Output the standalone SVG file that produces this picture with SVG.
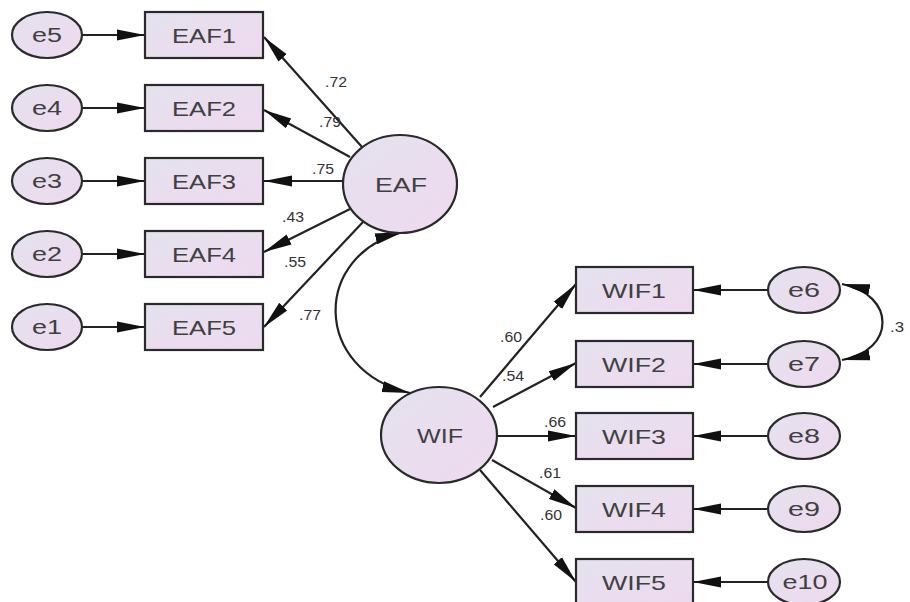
<svg xmlns="http://www.w3.org/2000/svg" width="910" height="602" viewBox="0 0 910 602">
<style>
.box{fill:url(#g);stroke:#2a2a2a;stroke-width:2.2}
.ell{fill:url(#g);stroke:#2a2a2a;stroke-width:2.2}
.lbl{font-family:"Liberation Sans",Arial,sans-serif;font-size:20px;fill:#404040;text-anchor:middle}
.big{font-size:21px}
.w{font-family:"Liberation Sans",Arial,sans-serif;font-size:14px;fill:#333;text-anchor:middle}
.c{stroke:#222;stroke-width:2.2;fill:none;marker-end:url(#ah)}
.cv{stroke:#222;stroke-width:2.2;fill:none;marker-end:url(#ah);marker-start:url(#ah)}
</style>
<defs>
<linearGradient id="g" x1="0" y1="0" x2="1" y2="1">
<stop offset="0" stop-color="#e4e2ee"/>
<stop offset="1" stop-color="#efd9ef"/>
</linearGradient>
<marker id="ah" markerUnits="userSpaceOnUse" markerWidth="30" markerHeight="14" refX="28" refY="7" orient="auto-start-reverse" viewBox="0 0 30 14">
<path d="M0,1.5 L28,7 L0,12.5 Z" fill="#111"/>
</marker>
</defs>
<rect width="910" height="602" fill="#fff"/>
<g id="connectors">
<line class="c" x1="82" y1="35" x2="145" y2="35"/>
<line class="c" x1="82" y1="108" x2="145" y2="108"/>
<line class="c" x1="82" y1="181" x2="145" y2="181"/>
<line class="c" x1="82" y1="254" x2="145" y2="254"/>
<line class="c" x1="82" y1="327" x2="145" y2="327"/>
<line class="c" x1="362" y1="147" x2="264" y2="37"/>
<line class="c" x1="350" y1="157" x2="264" y2="110"/>
<line class="c" x1="343" y1="181" x2="264" y2="181"/>
<line class="c" x1="350" y1="209" x2="264" y2="252"/>
<line class="c" x1="363" y1="222" x2="264" y2="327"/>
<path class="cv" d="M403,232 C312,255 312,370 410,393"/>
<line class="c" x1="480" y1="397" x2="576" y2="284"/>
<line class="c" x1="493" y1="407" x2="576" y2="363"/>
<line class="c" x1="497" y1="436" x2="576" y2="436"/>
<line class="c" x1="492" y1="460" x2="576" y2="508"/>
<line class="c" x1="480" y1="470" x2="576" y2="582"/>
<line class="c" x1="768" y1="290" x2="693" y2="290"/>
<line class="c" x1="768" y1="364" x2="693" y2="364"/>
<line class="c" x1="768" y1="436" x2="693" y2="436"/>
<line class="c" x1="768" y1="509" x2="693" y2="509"/>
<line class="c" x1="768" y1="582" x2="693" y2="582"/>
<path class="cv" d="M842,284 C896,295 896,350 842,360"/>
<text class="w" x="336" y="87" textLength="22" lengthAdjust="spacingAndGlyphs">.72</text>
<text class="w" x="330" y="127" textLength="22" lengthAdjust="spacingAndGlyphs">.79</text>
<text class="w" x="323" y="174" textLength="22" lengthAdjust="spacingAndGlyphs">.75</text>
<text class="w" x="293" y="222" textLength="22" lengthAdjust="spacingAndGlyphs">.43</text>
<text class="w" x="295" y="267" textLength="22" lengthAdjust="spacingAndGlyphs">.55</text>
<text class="w" x="310" y="320" textLength="22" lengthAdjust="spacingAndGlyphs">.77</text>
<text class="w" x="511" y="342" textLength="22" lengthAdjust="spacingAndGlyphs">.60</text>
<text class="w" x="513" y="381" textLength="22" lengthAdjust="spacingAndGlyphs">.54</text>
<text class="w" x="555" y="427" textLength="22" lengthAdjust="spacingAndGlyphs">.66</text>
<text class="w" x="550" y="478" textLength="22" lengthAdjust="spacingAndGlyphs">.61</text>
<text class="w" x="551" y="520" textLength="22" lengthAdjust="spacingAndGlyphs">.60</text>
<text class="w" x="897" y="332" textLength="14" lengthAdjust="spacingAndGlyphs">.3</text>
</g>
<g id="e5"><ellipse class="ell" cx="47" cy="35" rx="35" ry="23"/><text class="lbl" x="47" y="42" textLength="30" lengthAdjust="spacingAndGlyphs">e5</text></g>
<g id="e4"><ellipse class="ell" cx="47" cy="108" rx="35" ry="23"/><text class="lbl" x="47" y="115" textLength="30" lengthAdjust="spacingAndGlyphs">e4</text></g>
<g id="e3"><ellipse class="ell" cx="47" cy="181" rx="35" ry="23"/><text class="lbl" x="47" y="188" textLength="30" lengthAdjust="spacingAndGlyphs">e3</text></g>
<g id="e2"><ellipse class="ell" cx="47" cy="254" rx="35" ry="23"/><text class="lbl" x="47" y="261" textLength="30" lengthAdjust="spacingAndGlyphs">e2</text></g>
<g id="e1"><ellipse class="ell" cx="47" cy="327" rx="35" ry="23"/><text class="lbl" x="47" y="334" textLength="30" lengthAdjust="spacingAndGlyphs">e1</text></g>
<g id="EAF1"><rect class="box" x="145" y="12" width="118" height="46"/><text class="lbl big" x="204" y="43" textLength="64" lengthAdjust="spacingAndGlyphs">EAF1</text></g>
<g id="EAF2"><rect class="box" x="145" y="85" width="118" height="46"/><text class="lbl big" x="204" y="116" textLength="64" lengthAdjust="spacingAndGlyphs">EAF2</text></g>
<g id="EAF3"><rect class="box" x="145" y="158" width="118" height="46"/><text class="lbl big" x="204" y="189" textLength="64" lengthAdjust="spacingAndGlyphs">EAF3</text></g>
<g id="EAF4"><rect class="box" x="145" y="231" width="118" height="46"/><text class="lbl big" x="204" y="262" textLength="64" lengthAdjust="spacingAndGlyphs">EAF4</text></g>
<g id="EAF5"><rect class="box" x="145" y="304" width="118" height="46"/><text class="lbl big" x="204" y="335" textLength="64" lengthAdjust="spacingAndGlyphs">EAF5</text></g>
<g id="EAF"><ellipse class="ell" cx="400" cy="184" rx="57" ry="49"/><text class="lbl big" x="401" y="192" textLength="52" lengthAdjust="spacingAndGlyphs">EAF</text></g>
<g id="WIF"><ellipse class="ell" cx="439" cy="435" rx="58" ry="48"/><text class="lbl big" x="440" y="443" textLength="46" lengthAdjust="spacingAndGlyphs">WIF</text></g>
<g id="WIF1"><rect class="box" x="576" y="267" width="117" height="46"/><text class="lbl big" x="634" y="298" textLength="64" lengthAdjust="spacingAndGlyphs">WIF1</text></g>
<g id="WIF2"><rect class="box" x="576" y="341" width="117" height="46"/><text class="lbl big" x="634" y="372" textLength="64" lengthAdjust="spacingAndGlyphs">WIF2</text></g>
<g id="WIF3"><rect class="box" x="576" y="413" width="117" height="46"/><text class="lbl big" x="634" y="444" textLength="64" lengthAdjust="spacingAndGlyphs">WIF3</text></g>
<g id="WIF4"><rect class="box" x="576" y="486" width="117" height="46"/><text class="lbl big" x="634" y="517" textLength="64" lengthAdjust="spacingAndGlyphs">WIF4</text></g>
<g id="WIF5"><rect class="box" x="576" y="559" width="117" height="46"/><text class="lbl big" x="634" y="590" textLength="64" lengthAdjust="spacingAndGlyphs">WIF5</text></g>
<g id="e6"><ellipse class="ell" cx="804" cy="290" rx="36" ry="23"/><text class="lbl" x="804" y="297" textLength="32" lengthAdjust="spacingAndGlyphs">e6</text></g>
<g id="e7"><ellipse class="ell" cx="804" cy="364" rx="36" ry="23"/><text class="lbl" x="804" y="371" textLength="32" lengthAdjust="spacingAndGlyphs">e7</text></g>
<g id="e8"><ellipse class="ell" cx="804" cy="436" rx="36" ry="23"/><text class="lbl" x="804" y="443" textLength="32" lengthAdjust="spacingAndGlyphs">e8</text></g>
<g id="e9"><ellipse class="ell" cx="804" cy="509" rx="36" ry="23"/><text class="lbl" x="804" y="516" textLength="32" lengthAdjust="spacingAndGlyphs">e9</text></g>
<g id="e10"><ellipse class="ell" cx="804" cy="582" rx="36" ry="23"/><text class="lbl" x="805" y="589" textLength="45" lengthAdjust="spacingAndGlyphs">e10</text></g>
</svg>
